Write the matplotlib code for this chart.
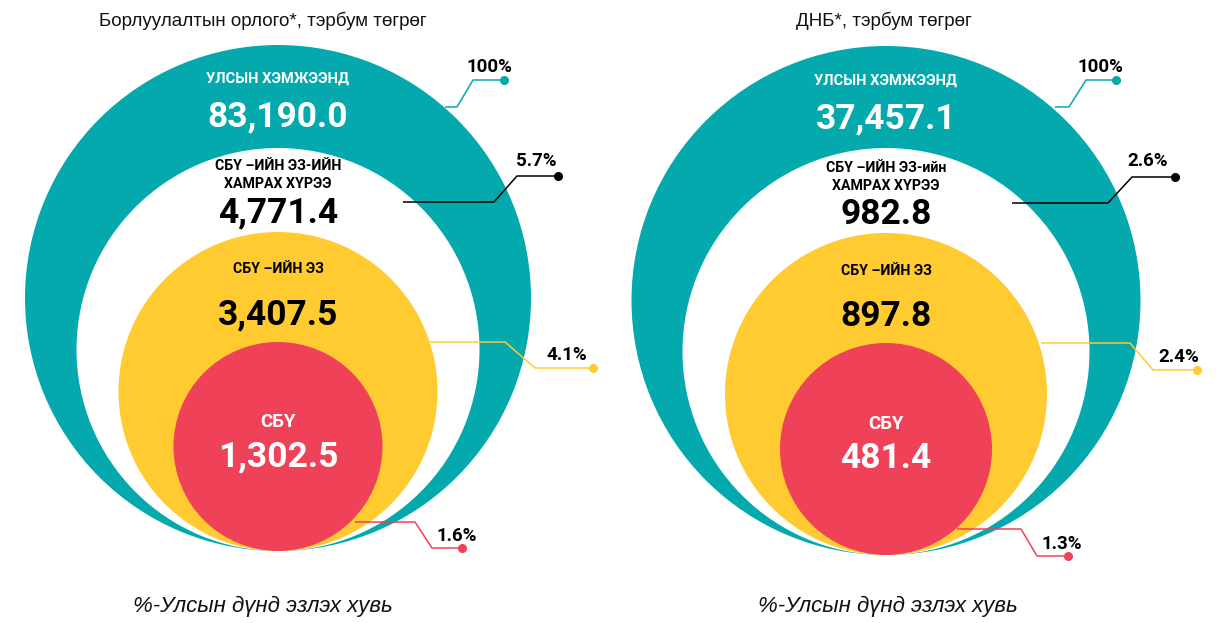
import matplotlib
matplotlib.use("Agg")
import matplotlib.pyplot as plt
from matplotlib.patches import Circle
from matplotlib import font_manager as fm

# ---------------- data ----------------
titles = ["Борлуулалтын орлого*, тэрбум төгрөг", "ДНБ*, тэрбум төгрөг"]
footer = "%-Улсын дүнд эзлэх хувь"
levels_sales = ["УЛСЫН ХЭМЖЭЭНД", "СБҮ –ИЙН ЭЗ-ИЙН\nХАМРАХ ХҮРЭЭ", "СБҮ –ИЙН ЭЗ", "СБҮ"]
levels_gdp = ["УЛСЫН ХЭМЖЭЭНД", "СБҮ –ИЙН ЭЗ-ийн\nХАМРАХ ХҮРЭЭ", "СБҮ –ИЙН ЭЗ", "СБҮ"]
sales_values = [83190.0, 4771.4, 3407.5, 1302.5]
gdp_values = [37457.1, 982.8, 897.8, 481.4]
sales_share = [100, 5.7, 4.1, 1.6]
gdp_share = [100, 2.6, 2.4, 1.3]

# ---------------- style ----------------
TEAL = "#03A9AD"
YELLOW = "#FFCB31"
RED = "#EF4157"
WHITE = "#FFFFFF"
BLACK = "#000000"
ring_colors = [TEAL, WHITE, YELLOW, RED]
leader_colors = [TEAL, BLACK, YELLOW, RED]


def has_font(name):
    try:
        fm.findfont(fm.FontProperties(family=name), fallback_to_default=False)
        return True
    except Exception:
        return False


BOLD = "Roboto" if has_font("Roboto") else "DejaVu Sans"
REG = "Liberation Sans" if has_font("Liberation Sans") else "DejaVu Sans"

fig = plt.figure(figsize=(12.24, 6.23), dpi=100)
ax = fig.add_axes([0, 0, 1, 1])
ax.set_xlim(0, 1224)
ax.set_ylim(623, 0)
ax.axis("off")

# layout of each panel (pixel space)
panels = [
    dict(cx=278, bottom=551, radii=[253, 201.5, 159.5, 104.5], dy=0,
         title_x=263, footer_x=263,
         leaders=[
             ([(445, 107), (457, 107), (473, 80), (504, 80)], (489, 67)),
             ([(403, 202), (494, 202), (517, 176), (558, 176)], (536, 161)),
             ([(430, 342), (505, 342), (535, 368), (593, 368)], (567, 355)),
             ([(355, 522), (415, 522), (432, 548), (462, 548)], (457, 536)),
         ]),
    dict(cx=886, bottom=555, radii=[254.5, 203.5, 161, 106], dy=2,
         title_x=884, footer_x=888,
         leaders=[
             ([(1055, 107), (1069, 107), (1086, 80), (1116, 80)], (1100, 67)),
             ([(1012, 203), (1108, 203), (1132, 177), (1175, 177)], (1148, 161)),
             ([(1041, 343), (1130, 343), (1153, 370), (1197, 370)], (1179, 357)),
             ([(957, 529), (1021, 529), (1037, 556), (1068, 556)], (1062, 544)),
         ]),
]

datasets = [
    (titles[0], levels_sales, sales_values, sales_share),
    (titles[1], levels_gdp, gdp_values, gdp_share),
]

for p, (title, levels, values, shares) in zip(panels, datasets):
    cx, bottom, dy = p["cx"], p["bottom"], p["dy"]
    for r, col in zip(p["radii"], ring_colors):
        ax.add_patch(Circle((cx, bottom - r), r, facecolor=col, edgecolor="none", zorder=1))

    # title and footer
    ax.text(p["title_x"], 21, title, ha="center", va="center", fontsize=13.5,
            family=REG, color="#111111")
    ax.text(p["footer_x"], 606, footer, ha="center", va="center", fontsize=16,
            family=REG, style="italic", color="#111111")

    # level labels & values
    label_y = [79, 175, 269, 422]
    value_y = [117, 213, 315, 457]
    label_size = [10.5, 10.2, 10.2, 13.5]
    text_cols = [WHITE, BLACK, BLACK, WHITE]
    for i in range(4):
        ax.text(cx, label_y[i] + dy, levels[i], ha="center", va="center",
                fontsize=label_size[i], family=BOLD, weight="bold",
                color=text_cols[i], linespacing=1.3, zorder=3)
        ax.text(cx, value_y[i] + dy, f"{values[i]:,.1f}", ha="center", va="center",
                fontsize=25.5, family=BOLD, weight="bold", color=text_cols[i], zorder=3)

    # leader lines with share labels
    for (pts, lab), col, s in zip(p["leaders"], leader_colors, shares):
        xs = [q[0] for q in pts]
        ys = [q[1] for q in pts]
        ax.plot(xs, ys, color=col, lw=1.1, zorder=4, solid_capstyle="butt")
        ax.plot(xs[-1], ys[-1], "o", color=col, ms=5.5, zorder=5)
        txt = f"{s:g}%"
        ax.text(lab[0], lab[1], txt, ha="center", va="center", fontsize=13.5,
                family=BOLD, weight="bold", color=BLACK, zorder=5)

fig.savefig("out.png", dpi=100, facecolor="white")
